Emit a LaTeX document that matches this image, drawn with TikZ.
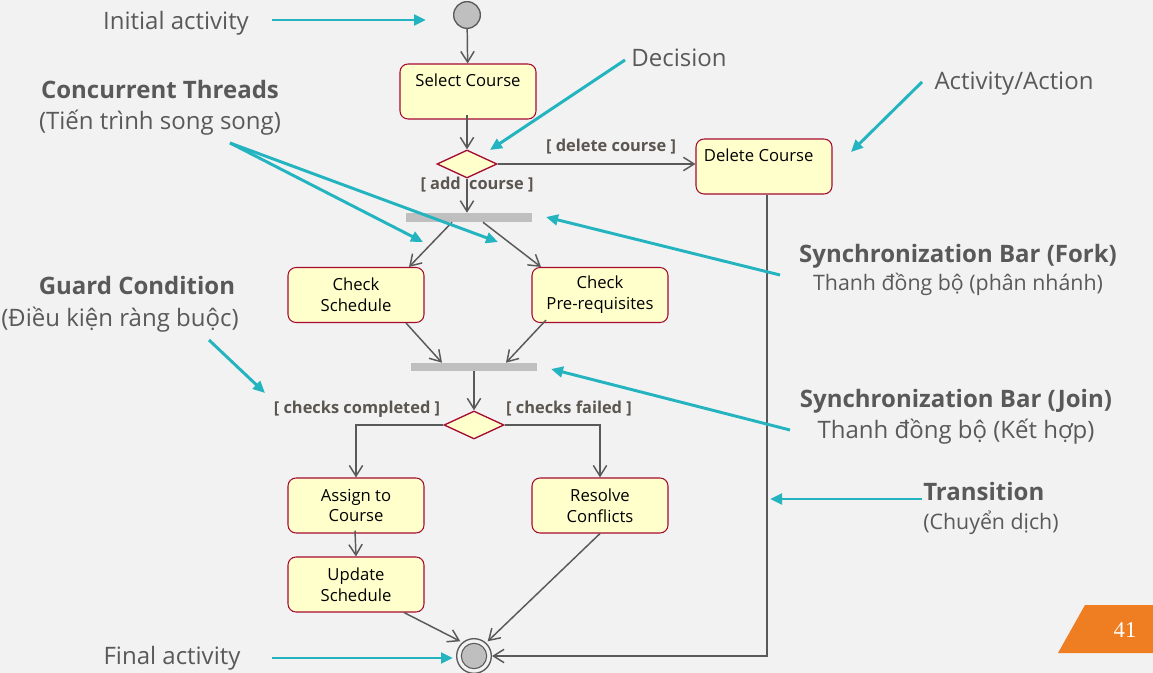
\documentclass[tikz,border=0pt]{standalone}
\usepackage{fontspec}
\setmainfont{Open Sans}
\newfontfamily\numfont{Liberation Serif}
\usetikzlibrary{shapes.geometric,arrows.meta,calc}
\definecolor{bgc}{HTML}{F2F2F2}
\definecolor{actfill}{HTML}{FFFFCC}
\definecolor{actborder}{RGB}{165,10,50}
\definecolor{linec}{HTML}{595959}
\definecolor{barc}{HTML}{BFBFBF}
\definecolor{guardc}{RGB}{92,86,80}
\definecolor{notec}{HTML}{595959}
\definecolor{tealc}{RGB}{35,180,192}
\definecolor{orangec}{RGB}{239,125,34}
\begin{document}
\begin{tikzpicture}[x=0.75pt,y=-0.75pt,
  act/.style={rectangle, rounded corners=6pt, draw=actborder, fill=actfill, line width=0.8pt,
    minimum width=102pt, minimum height=41.25pt, align=center, inner sep=0pt,
    font=\fontsize{12.5}{15.5}\selectfont, text=black},
  actone/.style={act, text height=9pt, text depth=17pt},
  decis/.style={diamond, draw=actborder, fill=actfill, line width=1pt, inner sep=0pt,
    minimum width=45pt, minimum height=21pt, aspect=2.1},
  syncbar/.style={rectangle, fill=barc, draw=none, minimum width=94.5pt, inner sep=0pt},
  flow/.style={draw=linec, line width=1.1pt, -{Straight Barb[length=8pt,width=10pt]}},
  guard/.style={font=\bfseries\fontsize{12.3}{14}\selectfont, text=guardc, inner sep=1pt},
  note/.style={font=\fontsize{18}{22}\selectfont, text=notec, align=center, inner sep=0pt,
    text height=13pt, text depth=4pt},
  notes/.style={note, font=\fontsize{16}{20}\selectfont},
  noteb/.style={note, font=\bfseries\fontsize{18}{22}\selectfont},
  point/.style={draw=tealc, line width=2.2pt, -{Triangle[length=9pt,width=8pt]}}
]
\useasboundingbox (0,0) rectangle (1153,673);
\fill[bgc] (0,0) rectangle (1153,673);

% ---- main activity diagram ----
\node[circle, draw=linec, fill=barc, line width=1pt, minimum size=20pt, inner sep=0pt] (init) at (467,15) {};
\node[actone] (sel) at (468,91.5) {Select Course};
\node[decis] (dec1) at (467,164) {};
\node[actone] (del) at (764,166.5) {Delete Course\hspace*{8pt}};
\node[syncbar, minimum height=6.75pt] (fork) at (469,217.5) {};
\node[act] (sched) at (356,295) {Check\\Schedule};
\node[act] (prereq) at (600,295) {Check\\Pre-requisites};
\node[syncbar, minimum height=6pt] (join) at (474,367) {};
\node[decis] (dec2) at (474,425) {};
\node[act] (assign) at (356,505.5) {Assign to\\Course};
\node[act] (resolve) at (600,505.5) {Resolve\\Conflicts};
\node[act] (update) at (356,584.5) {Update\\Schedule};
\node[circle, draw=linec, fill=bgc, line width=1pt, minimum size=26pt, inner sep=0pt] (final) at (474,656) {};
\node[circle, draw=linec, fill=barc, line width=0.8pt, minimum size=19pt, inner sep=0pt] (finalin) at (474,656) {};

\draw[flow] (init) -- (sel);
\draw[flow] ($(sel.south)+(-1,-5)$) -- (dec1.north);
\draw[flow] (dec1.east) -- (del.west |- dec1.east);
\draw[flow] (dec1.south) -- (fork.north -| dec1.south);
\draw[flow] ($(fork.south)+(-17,0)$) -- ($(sched.north)+(53,0)$);
\draw[flow] ($(fork.south)+(14,0)$) -- ($(prereq.north)+(-59,0)$);
\draw[flow] ($(sched.south)+(50,0)$) -- ($(join.north)+(-32,0)$);
\draw[flow] ($(prereq.south)+(-54,-3)$) -- ($(join.north)+(32,0)$);
\draw[flow] (join.south) -- (dec2.north);
\draw[flow] (dec2.west) -| (assign.north);
\draw[flow] (dec2.east) -| (resolve.north);
\draw[flow] ($(assign.south)+(-1,-3)$) -- (update.north);
\draw[flow] ($(update.south)+(48,0)$) -- ($(final.north west)+(-1,-2)$);
\draw[flow] ($(resolve.south)+(0,0)$) -- ($(final.north east)+(1,-2)$);
\draw[flow] ($(del.south)+(3,0)$) |- (final.east);

\node[guard] (gdel) at (611,147) {[ delete course ]};
\node[guard] (gadd) at (477,185) {[ add\hspace{3pt} course ]};
\node[guard] (gcomp) at (357,409) {[ checks completed ]};
\node[guard] (gfail) at (569,409) {[ checks failed ]};

% ---- annotations ----
\node[note] (ninit) at (176,24) {Initial activity};
\node[note] (ndec) at (679,61) {Decision};
\node[note] (nact) at (1014,84) {Activity/Action};
\node[noteb] (nconc) at (160,93) {Concurrent Threads};
\node[note] (nconc2) at (160,124) {(Tiến trình song song)};
\node[noteb] (nguard) at (137,289) {Guard Condition};
\node[note] (nguard2) at (120,321) {(Điều kiện ràng buộc)};
\node[noteb] (nfork) at (958,257) {Synchronization Bar (Fork)};
\node[notes] (nfork2) at (958,285) {Thanh đồng bộ (phân nhánh)};
\node[noteb] (njoin) at (956,401) {Synchronization Bar (Join)};
\node[note] (njoin2) at (956,433) {Thanh đồng bộ (Kết hợp)};
\node[noteb, anchor=west] (ntrans) at (923,494) {Transition};
\node[notes, anchor=west] (ntrans2) at (923,523) {(Chuyển dịch)};
\node[note] (nfinal) at (172,658) {Final activity};

\coordinate (a1s) at (272,20);   \coordinate (a1e) at (426,20);
\coordinate (a2s) at (625,60);   \coordinate (a2e) at (490,150);
\coordinate (a3s) at (922,82);   \coordinate (a3e) at (851,152);
\coordinate (a4s) at (230,143);  \coordinate (a4e) at (423,242);
\coordinate (a5e) at (498,242);
\coordinate (a6s) at (209,340);  \coordinate (a6e) at (265,393);
\coordinate (a7s) at (780,275);  \coordinate (a7e) at (546,217);
\coordinate (a8s) at (790,430);  \coordinate (a8e) at (551,369);
\coordinate (a9s) at (922,499);  \coordinate (a9e) at (770,499);
\coordinate (a10s) at (272,658); \coordinate (a10e) at (453,658);

\draw[point] (a1s) -- (a1e);
\draw[point] (a2s) -- (a2e);
\draw[point] (a3s) -- (a3e);
\draw[point] (a4s) -- (a4e);
\draw[point] (a4s) -- (a5e);
\draw[point] (a6s) -- (a6e);
\draw[point] (a7s) -- (a7e);
\draw[point] (a8s) -- (a8e);
\draw[point] (a9s) -- (a9e);
\draw[point] (a10s) -- (a10e);

% ---- page number ----
\fill[orangec] (1058,653) -- (1085,605) -- (1153,605) -- (1153,653) -- cycle;
\node[font=\numfont\fontsize{17}{20}\selectfont, text=white] (pnum) at (1125,630) {41};
\end{tikzpicture}
\end{document}
